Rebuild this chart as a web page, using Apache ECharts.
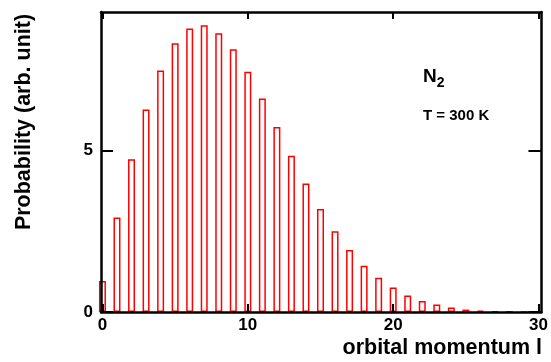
<!DOCTYPE html>
<html>
<head>
<meta charset="utf-8">
<script src="https://cdn.jsdelivr.net/npm/echarts@6/dist/echarts.min.js"></script>
<style>
  html, body { margin: 0; padding: 0; background: #fff; }
  #chart { width: 551px; height: 362px; }
</style>
</head>
<body>
<div id="chart"></div>
<script>
// orbital momentum l (bar centres) and probability
const momentum = [0, 1, 2, 3, 4, 5, 6, 7, 8, 9, 10, 11, 12, 13, 14, 15,
  16, 17, 18, 19, 20, 21, 22, 23, 24, 25, 26, 27, 28, 29, 30]
const probability = [0.96, 2.93, 4.73, 6.27, 7.48, 8.32, 8.78, 8.88, 8.63, 8.14,
  7.44, 6.61, 5.73, 4.84, 3.98, 3.19, 2.50, 1.92, 1.43, 1.06,
  0.76, 0.51, 0.34, 0.23, 0.14, 0.075, 0.04, 0.02, 0.01, 0.005, 0.002]
const xTicks = [0, 10, 20, 30]
const yTicks = [0, 5]

const font = 'Liberation Sans, Arial, Helvetica, sans-serif'
const black = '#000'

const chart = echarts.init(document.getElementById('chart'), null, { renderer: 'canvas' })

const frameLine = { show: true, onZero: false, lineStyle: { color: black, width: 2.5 } }

const option = {
  animation: false,
  backgroundColor: '#fff',
  grid: { left: 101, top: 12, width: 442, height: 300, show: false },
  xAxis: [
    {
      type: 'value', min: -0.1, max: 30.2, position: 'bottom', z: 10,
      axisLine: frameLine,
      axisTick: { show: true, inside: true, length: 8, customValues: xTicks, lineStyle: { color: black, width: 2 } },
      axisLabel: { customValues: xTicks, color: black, fontFamily: font, fontWeight: 'bold', fontSize: 17, margin: 5 },
      splitLine: { show: false }
    },
    {
      type: 'value', min: -0.1, max: 30.2, position: 'top', z: 10,
      axisLine: frameLine,
      axisTick: { show: true, inside: true, length: 7, customValues: xTicks, lineStyle: { color: black, width: 2 } },
      axisLabel: { show: false },
      splitLine: { show: false }
    }
  ],
  yAxis: [
    {
      type: 'value', min: 0, max: 9.29, position: 'left', z: 10,
      axisLine: frameLine,
      axisTick: { show: true, inside: true, length: 12, customValues: yTicks, lineStyle: { color: black, width: 2 } },
      axisLabel: { customValues: yTicks, color: black, fontFamily: font, fontWeight: 'bold', fontSize: 17, margin: 8 },
      splitLine: { show: false }
    },
    {
      type: 'value', min: 0, max: 9.29, position: 'right', z: 10,
      axisLine: frameLine,
      axisTick: { show: true, inside: true, length: 13, customValues: yTicks, lineStyle: { color: black, width: 2 } },
      axisLabel: { show: false },
      splitLine: { show: false }
    }
  ],
  series: [
    {
      type: 'bar',
      xAxisIndex: 0,
      yAxisIndex: 0,
      barWidth: 7,
      clip: true,
      data: momentum.map((l, i) => [l, probability[i]]),
      itemStyle: { color: '#fff', borderColor: '#ff0000', borderWidth: 1.5 }
    }
  ],
  graphic: [
    {
      type: 'text', x: 24, y: 122, rotation: Math.PI / 2,
      style: {
        text: 'Probability (arb. unit)', fill: black, font: 'bold 21.5px ' + font,
        textAlign: 'center', textVerticalAlign: 'middle'
      }
    },
    {
      type: 'text', x: 542, y: 348,
      style: {
        text: 'orbital momentum l', fill: black, font: 'bold 21.5px ' + font,
        textAlign: 'right', textVerticalAlign: 'middle'
      }
    },
    {
      type: 'text', x: 423, y: 67,
      style: {
        text: '{n|N}{s|2}', fill: black,
        rich: {
          n: { fontFamily: font, fontWeight: 'bold', fontSize: 19, fill: black, verticalAlign: 'top' },
          s: { fontFamily: font, fontWeight: 'bold', fontSize: 14, fill: black, verticalAlign: 'top', padding: [9, 0, 0, 0] }
        }
      }
    },
    {
      type: 'text', x: 423, y: 116,
      style: {
        text: 'T = 300 K', fill: black, font: 'bold 15px ' + font,
        textAlign: 'left', textVerticalAlign: 'middle'
      }
    }
  ]
}

chart.setOption(option)
</script>
</body>
</html>
